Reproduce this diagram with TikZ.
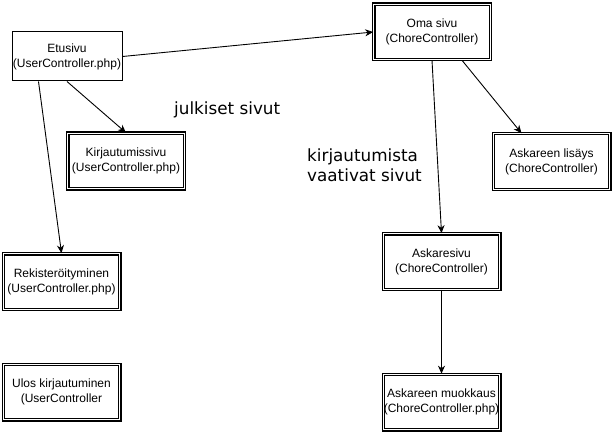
\documentclass[tikz,border=0pt]{standalone}
\usepackage{fontspec}
\setmainfont{Liberation Sans}
\newfontfamily\labelfont{DejaVu Sans}
\usetikzlibrary{arrows.meta}
\begin{document}
\begin{tikzpicture}[x=1pt,y=-1pt,
  boxtext/.style={align=center,font=\fontsize{12}{15}\selectfont,text=black,inner sep=0pt},
  singlebox/.style={boxtext,draw,line width=1pt,minimum width=110pt,minimum height=49pt},
  doublebox/.style={boxtext,draw,line width=1.1pt,double,double distance=1.3pt,minimum width=116.5pt,minimum height=55.5pt},
  conn/.style={line width=0.9pt,-{Stealth[length=8pt,width=7pt,inset=2.5pt]}},
  biglabel/.style={font=\labelfont\fontsize{16.8}{20}\selectfont,inner sep=0pt,align=left}]
\useasboundingbox (0,0) rectangle (613,433);
\node[singlebox] (etu) at (67,56.5) {Etusivu\\(UserController.php)};
\node[doublebox] (kirj) at (126,161) {Kirjautumissivu\\(UserController.php)};
\node[doublebox] (rek) at (61.5,281.5) {Rekisteröityminen\\(UserController.php)};
\node[doublebox] (ulos) at (61.5,392) {Ulos kirjautuminen\\(UserController};
\node[doublebox] (oma) at (432,32) {Oma sivu\\(ChoreController)};
\node[doublebox] (lis) at (551.5,161.5) {Askareen lisäys\\(ChoreController)};
\node[doublebox] (ask) at (441.5,261.5) {Askaresivu\\(ChoreController)};
\node[doublebox] (muok) at (441.5,402) {Askareen muokkaus\\(ChoreController.php)};
\node[biglabel,anchor=base west] (julk) at (174,115) {julkiset sivut};
\node[biglabel,anchor=north west] (kirjl) at (307,149) {kirjautumista\\vaativat sivut};
\draw[conn] (etu.east) -- (oma.west);
\draw[conn] (etu.south) -- (kirj.north);
\draw[conn] ([xshift=27pt]etu.south west) -- (rek.north);
\draw[conn] ([xshift=30pt]oma.south) -- ([xshift=-30pt]lis.north);
\draw[conn] (oma.south) -- (ask.north);
\draw[conn] (ask.south) -- (muok.north);
\end{tikzpicture}
\end{document}
